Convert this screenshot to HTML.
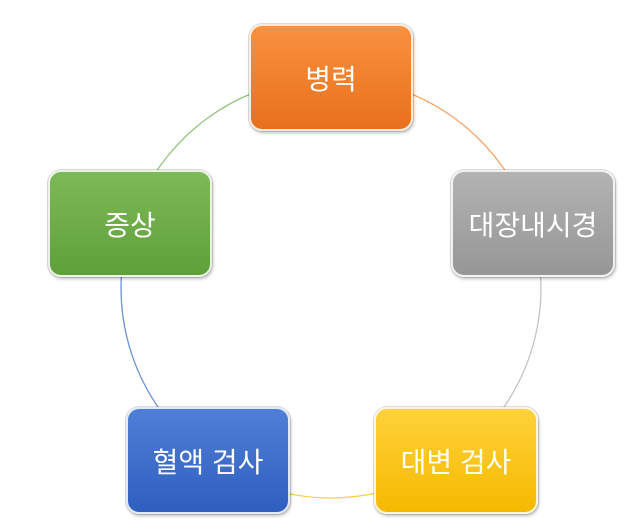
<!DOCTYPE html>
<html><head><meta charset="utf-8"><style>
html,body{margin:0;padding:0;background:#fff;width:640px;height:526px;overflow:hidden}
.b{position:absolute;width:160px;height:103px;border-radius:13px;border:2px solid rgba(255,255,255,0.85);box-shadow:0 0 0 1px rgba(0,0,0,0.12),1px 2px 3px rgba(0,0,0,0.25);display:flex;align-items:center;justify-content:center;color:#fff;font-family:"Liberation Sans","Noto Sans CJK KR",sans-serif;font-size:28px;box-sizing:content-box;white-space:nowrap}
</style></head><body>
<svg width="640" height="526" style="position:absolute;left:0;top:0">
<g fill="none" stroke-width="1.3">
<path d="M331 78 A210 210 0 0 1 530.7 223.1" stroke="#f4a36a"/>
<path d="M530.7 223.1 A210 210 0 0 1 454.4 457.9" stroke="#c4c4c4"/>
<path d="M454.4 457.9 A210 210 0 0 1 207.6 457.9" stroke="#f7cf4a"/>
<path d="M207.6 457.9 A210 210 0 0 1 131.3 223.1" stroke="#6f93d6"/>
<path d="M131.3 223.1 A210 210 0 0 1 331 78" stroke="#93c47d"/>
</g></svg>
<div class="b" style="left:249px;top:24px;background:linear-gradient(#f9913f,#e8701c)">병력</div>
<div class="b" style="left:451px;top:170px;background:linear-gradient(#b3b3b3,#969696)">대장내시경</div>
<div class="b" style="left:374px;top:407px;background:linear-gradient(#ffd23a,#f5b900)">대변 검사</div>
<div class="b" style="left:126px;top:407px;background:linear-gradient(#4f7fd6,#2f5fbf)">혈액 검사</div>
<div class="b" style="left:48px;top:170px;background:linear-gradient(#7dba57,#5fa03a)">증상</div>
</body></html>
